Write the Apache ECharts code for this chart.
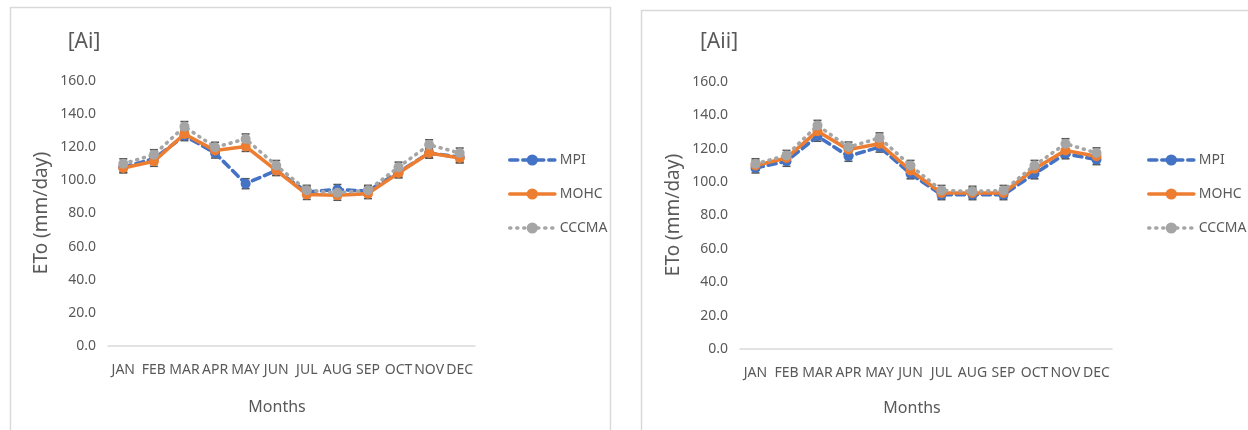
<!DOCTYPE html>
<html>
<head>
<meta charset="utf-8">
<title>ETo by month</title>
<script src="https://cdn.jsdelivr.net/npm/echarts@6/dist/echarts.min.js"></script>
<style>
  html, body { margin: 0; padding: 0; background: #ffffff; }
  #chart { width: 1248px; height: 430px; }
</style>
</head>
<body>
<div id="chart"></div>
<script>
// Month categories and y-axis ticks
const months = ['JAN', 'FEB', 'MAR', 'APR', 'MAY', 'JUN', 'JUL', 'AUG', 'SEP', 'OCT', 'NOV', 'DEC'];
const yTicks = [0, 20, 40, 60, 80, 100, 120, 140, 160];

// Panel [Ai] monthly ETo (mm/day)
const aiMPI   = [108.0, 113.0, 127.0, 116.5,  98.0, 106.0, 93.0, 94.5, 93.5, 105.0, 116.5, 114.0];
const aiMOHC  = [107.5, 111.5, 128.0, 118.0, 120.5, 106.0, 91.5, 91.0, 92.0, 104.5, 116.5, 113.5];
const aiCCCMA = [110.0, 115.5, 132.5, 120.0, 125.0, 109.0, 94.0, 92.5, 94.0, 108.0, 121.5, 116.5];

// Panel [Aii] monthly ETo (mm/day)
const aiiMPI   = [108.5, 112.5, 127.5, 115.5, 121.0, 105.0, 92.5, 92.5, 92.5, 105.0, 117.0, 113.5];
const aiiMOHC  = [110.0, 114.5, 130.5, 119.5, 123.0, 107.0, 93.5, 93.5, 93.5, 108.0, 119.0, 115.5];
const aiiCCCMA = [111.0, 116.0, 134.0, 121.0, 126.5, 110.0, 95.0, 94.5, 95.0, 110.0, 123.0, 117.5];

// Error-bar half widths (mm/day)
const errAmount = [3, 3, 3, 3, 3, 3, 3, 3, 3, 3, 3, 3];

const TEXT = '#595959';
const FONT = 'Noto Sans';
const COLORS = { MPI: '#4472C4', MOHC: '#ED7D31', CCCMA: '#A5A5A5' };
const LINE_TYPES = { MPI: [8, 5], MOHC: 'solid', CCCMA: [1, 6] };
const LINE_WIDTH = 3.6;

const chart = echarts.init(document.getElementById('chart'), null, { renderer: 'canvas' });

function grid(left, top, width, height) {
  return { left, top, width, height, containLabel: false };
}

function xAxis(gridIndex) {
  return {
    type: 'category', gridIndex, data: months, boundaryGap: true,
    axisLine: { show: true, lineStyle: { color: '#d9d9d9', width: 1.5 } },
    axisTick: { show: false },
    axisLabel: { color: TEXT, fontFamily: FONT, fontSize: 14, margin: 17, interval: 0 },
    splitLine: { show: false }
  };
}

function yAxis(gridIndex) {
  return {
    type: 'value', gridIndex, min: yTicks[0], max: yTicks[yTicks.length - 1],
    interval: yTicks[1] - yTicks[0],
    axisLine: { show: false }, axisTick: { show: false }, splitLine: { show: false },
    axisLabel: { color: TEXT, fontFamily: FONT, fontSize: 14, margin: 12,
      formatter: v => v.toFixed(1) }
  };
}

function lineSeries(name, data, idx, z) {
  return {
    name, type: 'line', data, xAxisIndex: idx, yAxisIndex: idx,
    symbol: 'circle', symbolSize: 10, z,
    itemStyle: { color: COLORS[name] },
    lineStyle: { color: COLORS[name], width: LINE_WIDTH, type: LINE_TYPES[name], cap: 'round' },
    emphasis: { disabled: true }, animation: false
  };
}

// Vertical error bars with caps, drawn from the same values as the markers
function errorSeries(name, data, idx, z) {
  return {
    name: name + ' error', type: 'custom', xAxisIndex: idx, yAxisIndex: idx, z,
    data: data.map((v, i) => [i, v - errAmount[i], v + errAmount[i]]),
    renderItem: (params, api) => {
      const lo = api.coord([api.value(0), api.value(1)]);
      const hi = api.coord([api.value(0), api.value(2)]);
      const w = 4;
      const style = { stroke: '#555555', lineWidth: 1.6 };
      return {
        type: 'group',
        children: [
          { type: 'line', shape: { x1: lo[0], y1: lo[1], x2: hi[0], y2: hi[1] }, style },
          { type: 'line', shape: { x1: hi[0] - w, y1: hi[1], x2: hi[0] + w, y2: hi[1] }, style },
          { type: 'line', shape: { x1: lo[0] - w, y1: lo[1], x2: lo[0] + w, y2: lo[1] }, style }
        ]
      };
    },
    silent: true, animation: false
  };
}

function panelSeries(idx, mpi, mohc, cccma) {
  return [
    errorSeries('MPI', mpi, idx, 1),
    errorSeries('MOHC', mohc, idx, 1),
    errorSeries('CCCMA', cccma, idx, 1),
    lineSeries('MPI', mpi, idx, 2),
    lineSeries('MOHC', mohc, idx, 3),
    lineSeries('CCCMA', cccma, idx, 4)
  ];
}

function legend(left) {
  return {
    orient: 'vertical', left, top: 148,
    data: ['MPI', 'MOHC', 'CCCMA'].map(name => ({
      name,
      itemStyle: { color: COLORS[name] },
      lineStyle: { color: COLORS[name], width: LINE_WIDTH, type: LINE_TYPES[name], cap: 'round' }
    })),
    itemWidth: 45, itemHeight: 14, itemGap: 20,
    textStyle: { color: TEXT, fontFamily: FONT, fontSize: 14 },
    selectedMode: false
  };
}

function text(x, y, str, size, rotation) {
  return {
    type: 'text', x, y, rotation: rotation || 0,
    style: { text: str, fill: TEXT, font: size + 'px "' + FONT + '"', textAlign: 'center', textVerticalAlign: 'middle' },
    silent: true
  };
}

const option = {
  backgroundColor: '#ffffff',
  textStyle: { fontFamily: FONT },
  grid: [grid(108, 81, 367, 265), grid(740, 82, 372, 267)],
  xAxis: [xAxis(0), xAxis(1)],
  yAxis: [yAxis(0), yAxis(1)],
  legend: [legend(503), legend(1142)],
  series: [
    ...panelSeries(0, aiMPI, aiMOHC, aiCCCMA),
    ...panelSeries(1, aiiMPI, aiiMOHC, aiiCCCMA)
  ],
  graphic: [
    { type: 'rect', shape: { x: 10.5, y: 7.5, width: 600, height: 440 },
      style: { fill: 'none', stroke: '#d9d9d9', lineWidth: 1.5 }, silent: true, z: -10 },
    { type: 'rect', shape: { x: 641.5, y: 10.5, width: 640, height: 440 },
      style: { fill: 'none', stroke: '#d9d9d9', lineWidth: 1.5 }, silent: true, z: -10 },
    text(84, 42, '[Ai]', 21),
    text(719, 42, '[Aii]', 21),
    text(42, 213, 'ETo (mm/day)', 19, Math.PI / 2),
    text(674, 215, 'ETo (mm/day)', 19, Math.PI / 2),
    text(277, 407, 'Months', 16),
    text(912, 408, 'Months', 16)
  ]
};

chart.setOption(option);
</script>
</body>
</html>
